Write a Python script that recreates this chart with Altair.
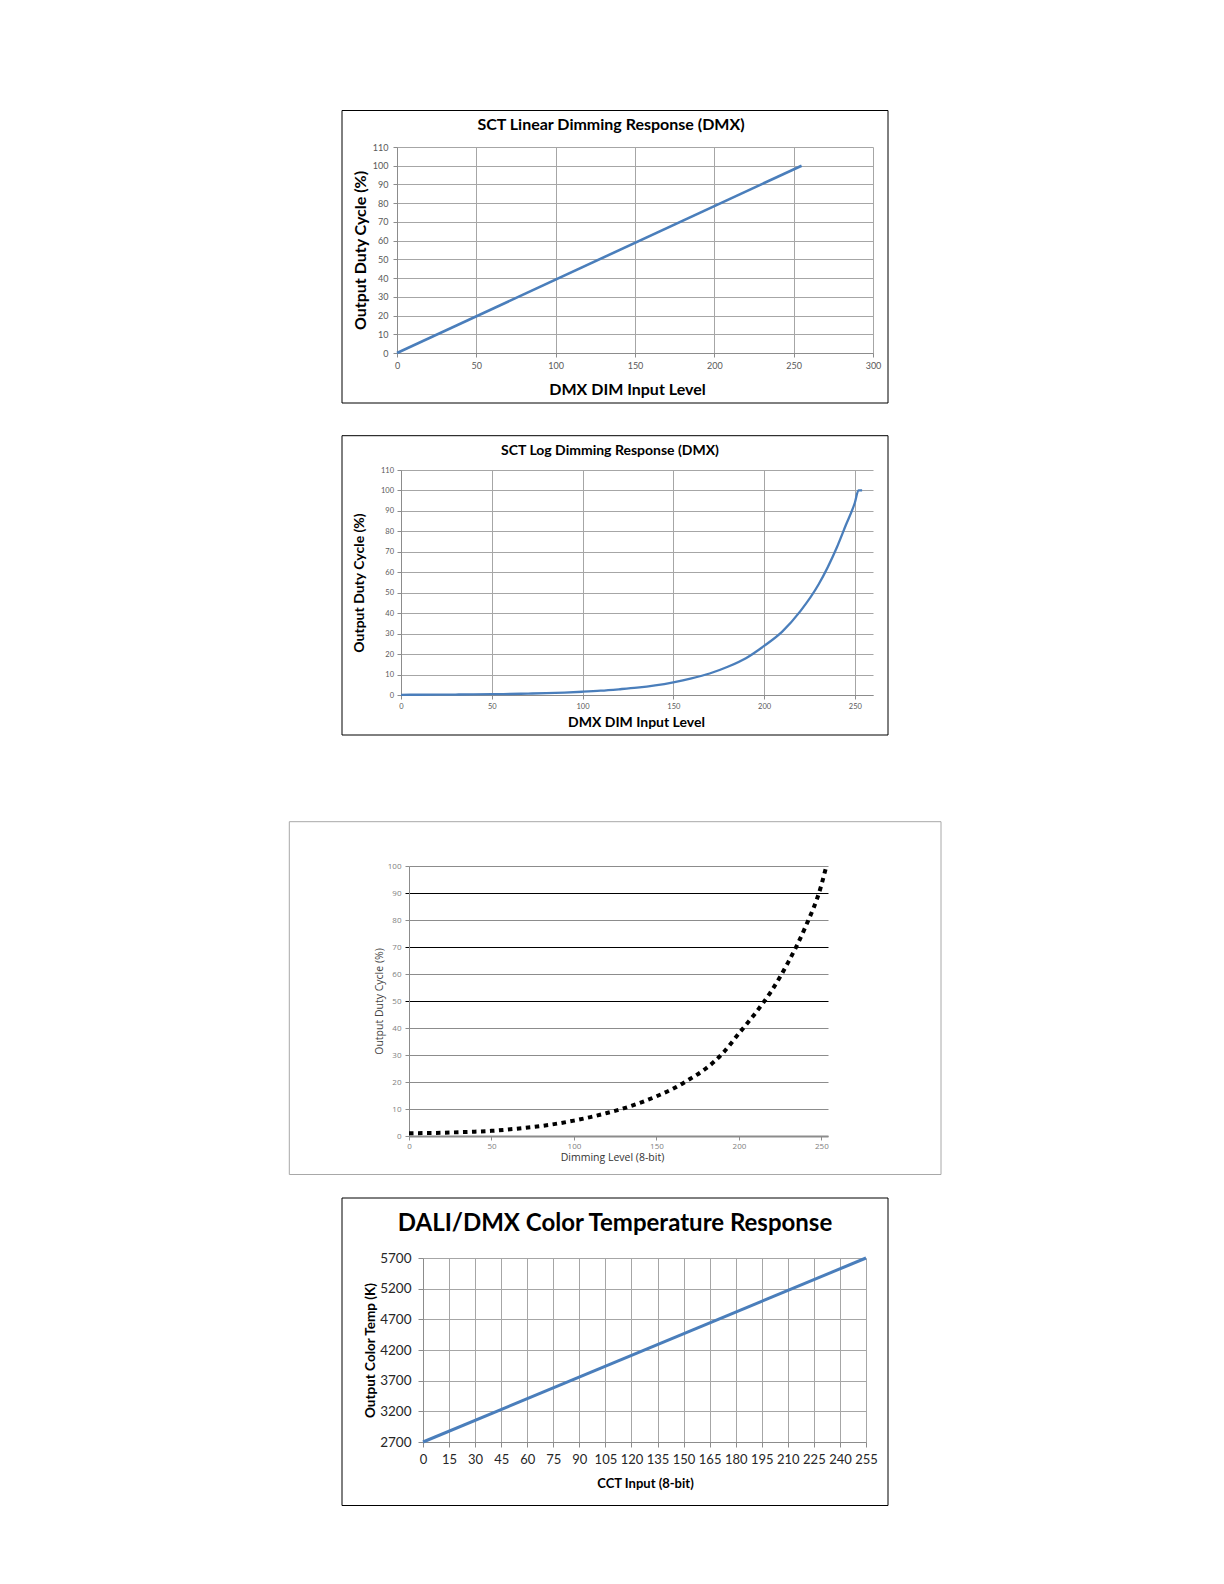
import altair as alt
import pandas as pd

# ---------------- data ----------------
# Chart 1: SCT Linear Dimming Response (DMX)
lin_x = [0, 255]
lin_y = [0, 100]
lin_xticks = [0, 50, 100, 150, 200, 250, 300]
lin_yticks = [0, 10, 20, 30, 40, 50, 60, 70, 80, 90, 100, 110]

# Chart 2: SCT Log Dimming Response (DMX)
log_x = [0, 10, 20, 30, 40, 50, 60, 70, 80, 90, 100, 110, 120, 130, 140, 150,
         160, 170, 180, 190, 200, 210, 220, 230, 240, 245, 250, 252, 254]
log_y = [0.1, 0.13, 0.17, 0.23, 0.3, 0.4, 0.5, 0.7, 0.9, 1.2, 1.6, 2.1, 2.8, 3.6,
         4.7, 6.2, 8.1, 10.5, 13.8, 18, 24, 31, 41, 54, 72, 83, 94, 100, 100]
log_xticks = [0, 50, 100, 150, 200, 250]
log_yticks = [0, 10, 20, 30, 40, 50, 60, 70, 80, 90, 100, 110]

# Chart 3: dotted exponential dimming curve
exp_x = [0, 10, 20, 30, 40, 50, 60, 70, 80, 90, 100, 110, 120, 130, 140, 150,
         160, 170, 180, 190, 200, 210, 220, 230, 240, 250, 253]
exp_y = [1.0, 1.1, 1.2, 1.4, 1.6, 1.9, 2.4, 3.0, 3.7, 4.6, 5.7, 7.0, 8.5, 10.2,
         12.3, 14.7, 17.5, 21, 25, 30.5, 38, 45.5, 54, 64.5, 77, 93, 100]
exp_xticks = [0, 50, 100, 150, 200, 250]
exp_yticks = [0, 10, 20, 30, 40, 50, 60, 70, 80, 90, 100]
exp_dark = [50, 70, 90]

# Chart 4: DALI/DMX Color Temperature Response
cct_x = [0, 255]
cct_y = [2700, 5700]
cct_xticks = [0, 15, 30, 45, 60, 75, 90, 105, 120, 135, 150, 165, 180, 195,
              210, 225, 240, 255]
cct_yticks = [2700, 3200, 3700, 4200, 4700, 5200, 5700]

BLUE = "#4a7ebb"
GRID = "#a6a6a6"
AX = "#8c8c8c"
XL = "Lato"


def box(x1, x2, y1, y2, color="#000000"):
    return alt.Chart(pd.DataFrame({"k": [0]})).mark_rect(
        fillOpacity=0, stroke=color, strokeWidth=1
    ).encode(x=alt.value(x1), x2=alt.value(x2), y=alt.value(y1), y2=alt.value(y2))


def heading(text, x, y, size, font=XL):
    return alt.Chart(pd.DataFrame({"t": [text]})).mark_text(
        font=font, fontSize=size, fontWeight="bold", color="#000000",
        align="center", baseline="middle"
    ).encode(text="t:N", x=alt.value(x), y=alt.value(y))


def spacer(w, h):
    return alt.Chart(pd.DataFrame({"s": [0]})).mark_point(opacity=0).encode(
        x=alt.value(0), y=alt.value(0)).properties(width=w, height=h)


def xaxis(values, title, tx, ty, lsize, tsize, lpad, tick=4, font=XL,
          lcolor="#595959", tcolor="#000000", tweight="bold", grid=True,
          gridcolor=GRID, dwidth=1):
    return alt.Axis(values=values, title=title, format="d", grid=grid,
                    gridColor=gridcolor, domainColor=AX, domainWidth=dwidth,
                    tickColor=AX, tickSize=tick,
                    labelFont=font, labelFontSize=lsize, labelColor=lcolor,
                    labelPadding=lpad, labelFlush=False, labelOverlap=False,
                    titleFont=font, titleFontSize=tsize, titleFontWeight=tweight,
                    titleColor=tcolor, titleX=tx, titleY=ty,
                    titleBaseline="middle", titleAlign="center")


def yaxis(values, title, tx, ty, lsize, tsize, lpad, tick=4, font=XL,
          lcolor="#595959", tcolor="#000000", tweight="bold",
          gridcolor=GRID, tickcolor=AX):
    return alt.Axis(values=values, title=title, format="d", grid=True,
                    gridColor=gridcolor, domainColor=AX, tickColor=tickcolor,
                    tickSize=tick,
                    labelFont=font, labelFontSize=lsize, labelColor=lcolor,
                    labelPadding=lpad, labelOverlap=False,
                    titleFont=font, titleFontSize=tsize, titleFontWeight=tweight,
                    titleColor=tcolor, titleX=tx, titleY=ty, titleAngle=-90,
                    titleBaseline="middle", titleAlign="center")


# ---------------- chart 1 ----------------
W1, H1 = 476, 206
line1 = alt.Chart(pd.DataFrame({"x": lin_x, "y": lin_y})).mark_line(
    color=BLUE, strokeWidth=2.6).encode(
    x=alt.X("x:Q", scale=alt.Scale(domain=[0, 300], nice=False),
            axis=xaxis(lin_xticks, "DMX DIM Input Level", 230, 36.5, 9, 16, 4)),
    y=alt.Y("y:Q", scale=alt.Scale(domain=[0, 110], nice=False),
            axis=yaxis(lin_yticks, "Output Duty Cycle (%)", -37, H1 / 2, 9, 16, 5)),
)
c1 = alt.layer(
    box(-55, 491, -36.5, 256),
    heading("SCT Linear Dimming Response (DMX)", 214, -22.5, 16),
    line1,
).properties(width=W1, height=H1)

# ---------------- chart 2 ----------------
W2, H2 = 472, 225
line2 = alt.Chart(pd.DataFrame({"x": log_x, "y": log_y})).mark_line(
    color=BLUE, strokeWidth=2.3, interpolate="monotone").encode(
    x=alt.X("x:Q", scale=alt.Scale(domain=[0, 260], nice=False),
            axis=xaxis(log_xticks, "DMX DIM Input Level", 235, 27.5, 7.5, 14, 3)),
    y=alt.Y("y:Q", scale=alt.Scale(domain=[0, 110], nice=False),
            axis=yaxis(log_yticks, "Output Duty Cycle (%)", -42, H2 / 2, 7.5, 14, 3.5)),
)
c2 = alt.layer(
    box(-59, 487, -34.3, 265),
    heading("SCT Log Dimming Response (DMX)", 209, -19.5, 14),
    line2,
).properties(width=W2, height=H2)

# ---------------- chart 3 ----------------
W3, H3 = 419, 270
dark_test = "indexof(" + str(exp_dark) + ", datum.value) >= 0"
dark_cond = {"condition": {"test": dark_test, "value": "#000000"}, "value": "#8c8c8c"}
line3 = alt.Chart(pd.DataFrame({"x": exp_x, "y": exp_y})).mark_line(
    color="#000000", strokeWidth=4, strokeDash=[4.5, 4.5], strokeCap="butt",
    interpolate="monotone").encode(
    x=alt.X("x:Q", scale=alt.Scale(domain=[0, 254], nice=False),
            axis=xaxis(exp_xticks, "Dimming Level (8-bit)", 203, 21.5, 8, 10.5, 2,
                       font="Open Sans", lcolor="#808080", tcolor="#333333",
                       tweight="normal", grid=False, dwidth=1.8)),
    y=alt.Y("y:Q", scale=alt.Scale(domain=[0, 100], nice=False),
            axis=yaxis(exp_yticks, "Output Duty Cycle (%)", -29.5, H3 / 2, 8, 10.5, 4,
                       font="Open Sans", lcolor="#808080", tcolor="#444444",
                       tweight="normal", gridcolor=dark_cond, tickcolor=dark_cond)),
)
c3 = alt.layer(
    box(-119.7, 532, -44.3, 308.5, color="#a8a8a8"),
    line3,
).properties(width=W3, height=H3)

# ---------------- chart 4 ----------------
W4, H4 = 443, 184
line4 = alt.Chart(pd.DataFrame({"x": cct_x, "y": cct_y})).mark_line(
    color=BLUE, strokeWidth=3).encode(
    x=alt.X("x:Q", scale=alt.Scale(domain=[0, 255], nice=False),
            axis=xaxis(cct_xticks, "CCT Input (8-bit)", 222, 41, 13, 13, 6, tick=5,
                       lcolor="#262626")),
    y=alt.Y("y:Q", scale=alt.Scale(domain=[2700, 5700], nice=False, zero=False),
            axis=yaxis(cct_yticks, "Output Color Temp (K)", -53, H4 / 2, 13.5, 13.5, 7,
                       tick=5, lcolor="#262626")),
)
c4 = alt.layer(
    box(-81, 465, -60, 247.5),
    heading("DALI/DMX Color Temperature Response", 192, -34, 24),
    line4,
).properties(width=W4, height=H4)

# ---------------- page layout ----------------
row1 = alt.hconcat(spacer(330, 288), c1, spacing=0)
row2 = alt.hconcat(spacer(330, 350.7), c2, spacing=0)
row3 = alt.hconcat(spacer(277, 331), c3, spacing=0)
row4 = alt.hconcat(spacer(330, 10), c4, spacing=0)

chart = alt.vconcat(row1, row2, row3, row4, spacing=0).properties(
    padding={"left": 0, "top": 102, "right": 5, "bottom": 5},
    background="#ffffff",
).configure_view(stroke=None)

chart.save("out.html", embed_options={"renderer": "svg", "actions": False})
